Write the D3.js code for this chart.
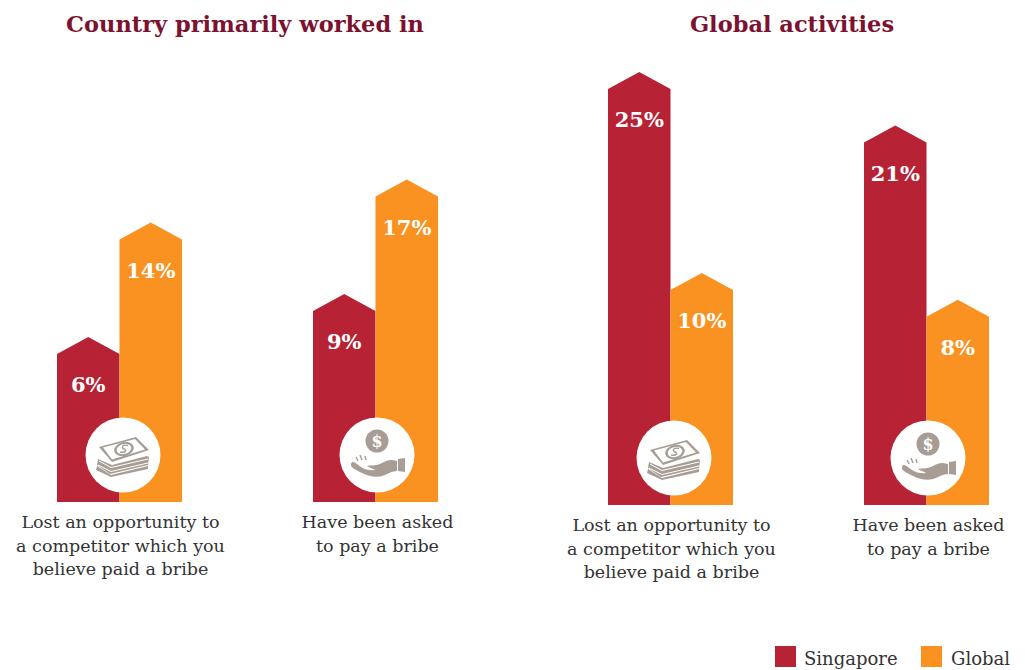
<!DOCTYPE html>
<html>
<head>
<meta charset="utf-8">
<script src="https://cdn.jsdelivr.net/npm/d3@7/dist/d3.min.js"></script>
<style>
html,body{margin:0;padding:0;background:#fff}
svg{display:block}
text{font-family:"DejaVu Serif",serif}
</style>
</head>
<body>
<svg id="chart" width="1025" height="670"></svg>
<script>
// Bribery survey figures, in percent
const seriesNames = ["Singapore", "Global"];
const seriesColors = ["#b72234", "#f99220"];
const panelTitles = ["Country primarily worked in", "Global activities"];
const questionLines = [
  ["Lost an opportunity to", "a competitor which you", "believe paid a bribe"],
  ["Have been asked", "to pay a bribe"]
];
const countrySingapore = [6, 9];
const countryGlobal = [14, 17];
const activitiesSingapore = [25, 21];
const activitiesGlobal = [10, 8];

const svg = d3.select("#chart");
const iconGrey = "#a79d94";

// Each panel owns its baseline, bar columns and height scale
const panels = [
  {
    title: panelTitles[0], titleX: 245, base: 502,
    starts: [57, 313], medallion: [[123, 455], [377, 455]],
    values: [countrySingapore, countryGlobal],
    y: d3.scaleLinear().domain([0, 25]).range([79, 437])
  },
  {
    title: panelTitles[1], titleX: 792, base: 505,
    starts: [608, 864], medallion: [[674, 458], [928, 458]],
    values: [activitiesSingapore, activitiesGlobal],
    y: d3.scaleLinear().domain([0, 25]).range([98, 433])
  }
];

const barSpan = 125;
const roofRise = 17;

function moneyIcon(g) {
  // Stack of banknotes seen at an angle
  g.append("path").attr("fill", iconGrey)
    .attr("d", "M-25,4 L-26,10 L-13,19 L25,10 L26,2 L24,1 L-11,10 Z");
  g.append("path").attr("fill", iconGrey)
    .attr("d", "M-26,11 L-27,15 L-12,22 L25,14 L25,11 L-12,20 Z");
  g.append("path").attr("fill", iconGrey)
    .attr("d", "M-24,-8 L13,-18 L26,-5 L-11,7 Z");
  g.append("path").attr("fill", "#fff")
    .attr("d", "M-20,-7.5 L12,-16 L22,-5.5 L-11,4.5 Z");
  g.append("ellipse").attr("cx", 1).attr("cy", -6).attr("rx", 10).attr("ry", 7)
    .attr("fill", iconGrey).attr("transform", "rotate(-15 1 -6)");
  g.append("ellipse").attr("cx", 1).attr("cy", -6).attr("rx", 7.5).attr("ry", 5)
    .attr("fill", "#fff").attr("transform", "rotate(-15 1 -6)");
  g.append("path").attr("fill", "none").attr("stroke", iconGrey).attr("stroke-width", 1.4)
    .attr("d", "M5,-9.5 C-1,-11 -2,-7 1,-6 C4,-5 3,-2 -3,-3");
  g.append("path").attr("fill", "none").attr("stroke", "#fff").attr("stroke-width", 1)
    .attr("d", "M-24,6 L-12,12.5 L25,4");
  g.append("path").attr("fill", "none").attr("stroke", "#fff").attr("stroke-width", 1)
    .attr("d", "M-25,10 L-12,16.5 L25,8");
}

function handIcon(g) {
  // Open hand with a dollar coin above it
  g.append("circle").attr("cy", -14).attr("r", 11.5).attr("fill", iconGrey);
  g.append("text").attr("y", -8.5).attr("text-anchor", "middle")
    .attr("font-size", 16).attr("font-weight", 700).attr("fill", "#fff").text("$");
  g.append("path").attr("fill", iconGrey)
    .attr("d", "M-26,9 C-25,6 -23,7 -20,9 C-15,13 -10,16 -2,15 C-5,13 -9,12 -10,11 C-6,10 -2,11 3,9 C7,7 10,5 15,5 L20,6 L20,16 C15,16 11,19 5,21 C-1,23 -9,21 -15,18 C-20,15 -27,13 -26,9 Z");
  g.append("path").attr("fill", iconGrey).attr("d", "M21,4 L28,3 L28,17 L21,16 Z");
  g.append("g").attr("fill", "none").attr("stroke", iconGrey).attr("stroke-width", 1.4)
    .selectAll("path")
    .data(["M-19,6 L-21,2", "M-15,5 L-17,0", "M-11,5 L-12,1"])
    .join("path").attr("d", d => d);
}

panels.forEach(panel => {
  const root = svg.append("g");
  const { base, y } = panel;

  root.append("text")
    .attr("x", panel.titleX).attr("y", 32)
    .attr("text-anchor", "middle")
    .attr("font-size", 22.5).attr("font-weight", 700)
    .attr("fill", "#7c1230")
    .text(panel.title);

  panel.starts.forEach((start, qi) => {
    const x = d3.scaleBand().domain(seriesNames).range([start, start + barSpan]);
    const w = x.bandwidth();
    const group = root.append("g");

    const rows = seriesNames.map((name, si) => ({
      name, color: seriesColors[si], value: panel.values[si][qi]
    }));

    group.selectAll("path.bar").data(rows).join("path")
      .attr("class", "bar")
      .attr("fill", d => d.color)
      .attr("d", d => {
        const peak = base - y(d.value);
        const l = x(d.name), r = l + w;
        return `M${l},${base}V${peak + roofRise}L${l + w / 2},${peak}L${r},${peak + roofRise}V${base}Z`;
      });

    group.selectAll("text.pct").data(rows).join("text")
      .attr("class", "pct")
      .attr("x", d => x(d.name) + w / 2)
      .attr("y", d => base - y(d.value) + 55)
      .attr("text-anchor", "middle")
      .attr("font-size", 21).attr("font-weight", 700)
      .attr("fill", "#fff")
      .text(d => d.value + "%");

    const [cx, cy] = panel.medallion[qi];
    const badge = group.append("g").attr("transform", `translate(${cx},${cy})`);
    badge.append("circle").attr("r", 37.5).attr("fill", "#fff");
    (qi === 0 ? moneyIcon : handIcon)(badge);

    group.append("text")
      .attr("text-anchor", "middle")
      .attr("font-size", 17.5)
      .attr("fill", "#333")
      .selectAll("tspan").data(questionLines[qi]).join("tspan")
      .attr("x", start + barSpan / 2 + (qi === 0 ? 1 : 2))
      .attr("y", (d, i) => base + 26 + i * 23.7)
      .text(d => d);
  });
});

// Legend in the lower right corner
const legendX = [775, 921];
const legend = svg.append("g").selectAll("g").data(seriesNames).join("g")
  .attr("transform", (d, i) => `translate(${legendX[i]},646)`);
legend.append("rect").attr("width", 21).attr("height", 21)
  .attr("fill", (d, i) => seriesColors[i]);
legend.append("text").attr("x", (d, i) => i === 0 ? 29 : 30).attr("y", 19)
  .attr("font-size", 18).attr("fill", "#333").text(d => d);
</script>
</body>
</html>
